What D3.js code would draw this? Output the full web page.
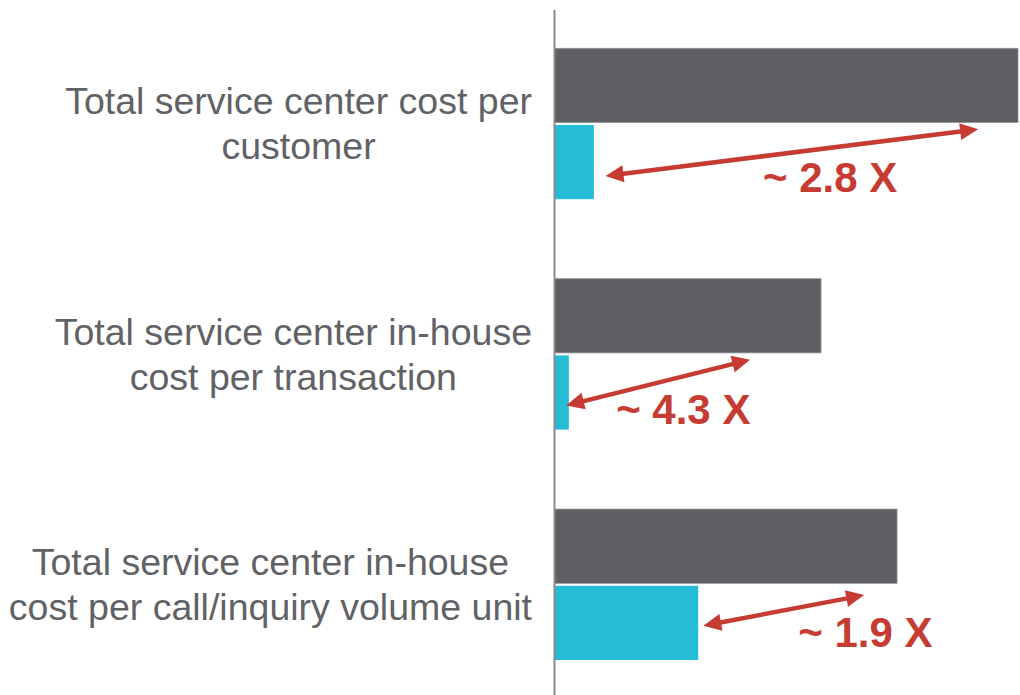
<!DOCTYPE html>
<html>
<head>
<meta charset="utf-8">
<script src="https://cdn.jsdelivr.net/npm/d3@7"></script>
<style>
  html, body { margin: 0; padding: 0; background: #fff; }
  svg { display: block; }
</style>
</head>
<body>
<svg id="chart" width="1020" height="695"></svg>
<script>
// ---- data ----
const categories = [
  ["Total service center cost per", "customer"],
  ["Total service center in-house", "cost per transaction"],
  ["Total service center in-house", "cost per call/inquiry volume unit"]
];
const categoryKeys = ["customer", "transaction", "call"];
const seriesNames = ["benchmark", "client"];
const benchmarkValues = [100, 57.5, 73.9];
const clientValues = [8.5, 3.1, 31.0];
const ratioLabels = ["~ 2.8 X", "~ 4.3 X", "~ 1.9 X"];
// annotation arrows, in value units
const arrowFrom = [11.0, 2.5, 32.1];
const arrowTo = [91.4, 42.2, 66.8];
const ratioLabelAt = [45.0, 13.3, 52.6];

// ---- layout ----
const W = 1020, H = 695;
const colors = { benchmark: "#5f6064", client: "#25bdd6" };
const red = "#c63b32";
const textColor = "#616266";

const svg = d3.select("#chart");

const x = d3.scaleLinear().domain([0, 100]).range([554.5, 1018]);
const y = d3.scaleBand().domain(categoryKeys).range([48.3, 660]).paddingInner(0.345).paddingOuter(0);
const ySub = d3.scaleBand().domain(seriesNames).range([0, y.bandwidth()]).paddingInner(0.033);

const rows = categoryKeys.map((k, i) => ({
  key: k, lines: categories[i],
  values: [
    { s: "benchmark", v: benchmarkValues[i] },
    { s: "client", v: clientValues[i] }
  ],
  from: arrowFrom[i], to: arrowTo[i], label: ratioLabels[i], labelAt: ratioLabelAt[i]
}));

// annotation vertical placement (fraction of group band)
const annY = [
  { from: 0.846, to: 0.537, label: 0.95 },
  { from: 0.840, to: 0.537, label: 0.966 },
  { from: 0.773, to: 0.570, label: 0.912 }
];

const g = svg.selectAll("g.row").data(rows).join("g")
  .attr("class", "row")
  .attr("transform", d => `translate(0,${y(d.key)})`);

g.selectAll("rect").data(d => d.values).join("rect")
  .attr("x", x(0))
  .attr("y", d => ySub(d.s))
  .attr("width", d => x(d.v) - x(0))
  .attr("height", ySub.bandwidth())
  .attr("fill", d => colors[d.s])
  .attr("stroke", d => d.s === "benchmark" ? "#8f9093" : "none")
  .attr("stroke-width", 0.8);

// axis line
svg.append("line")
  .attr("x1", x(0)).attr("x2", x(0))
  .attr("y1", 10).attr("y2", H)
  .attr("stroke", "#8a8a8c").attr("stroke-width", 2);

// category labels (each block centered, right edge aligned)
const labelRight = 532;
const lineGap = 45;
g.each(function(d) {
  const grp = d3.select(this);
  const t = grp.append("text")
    .attr("font-family", "Liberation Sans, Arial, sans-serif")
    .attr("font-size", 37.5)
    .attr("fill", textColor)
    .attr("text-anchor", "middle");
  const n = d.lines.length;
  const mid = y.bandwidth() / 2;
  d.lines.forEach((ln, j) => {
    t.append("tspan")
      .attr("x", 0)
      .attr("y", mid + (j - (n - 1) / 2) * lineGap + 13)
      .text(ln);
  });
  let maxW = 0;
  t.selectAll("tspan").each(function() { maxW = Math.max(maxW, this.getComputedTextLength()); });
  t.selectAll("tspan").attr("x", labelRight - maxW / 2);
});

// arrows
function arrowHead(tipX, tipY, dirX, dirY, len, half) {
  const bx = tipX - dirX * len, by = tipY - dirY * len;
  const px = -dirY, py = dirX;
  return `M${tipX},${tipY}L${bx + px * half},${by + py * half}L${bx - px * half},${by - py * half}Z`;
}
g.each(function(d, i) {
  const grp = d3.select(this);
  const bw = y.bandwidth();
  const x1 = x(d.from), y1 = annY[i].from * bw;
  const x2 = x(d.to), y2 = annY[i].to * bw;
  const dx = x2 - x1, dy = y2 - y1, L = Math.hypot(dx, dy);
  const ux = dx / L, uy = dy / L;
  const headLen = 18, half = 8.5;
  grp.append("line")
    .attr("x1", x1 + ux * (headLen - 2)).attr("y1", y1 + uy * (headLen - 2))
    .attr("x2", x2 - ux * (headLen - 2)).attr("y2", y2 - uy * (headLen - 2))
    .attr("stroke", red).attr("stroke-width", 4.5);
  grp.append("path").attr("d", arrowHead(x2, y2, ux, uy, headLen, half)).attr("fill", red);
  grp.append("path").attr("d", arrowHead(x1, y1, -ux, -uy, headLen, half)).attr("fill", red);
  grp.append("text")
    .attr("x", x(d.labelAt))
    .attr("y", annY[i].label * bw)
    .attr("font-family", "Liberation Sans, Arial, sans-serif")
    .attr("font-weight", "bold")
    .attr("font-size", 42)
    .attr("fill", red)
    .text(d.label);
});
</script>
</body>
</html>
